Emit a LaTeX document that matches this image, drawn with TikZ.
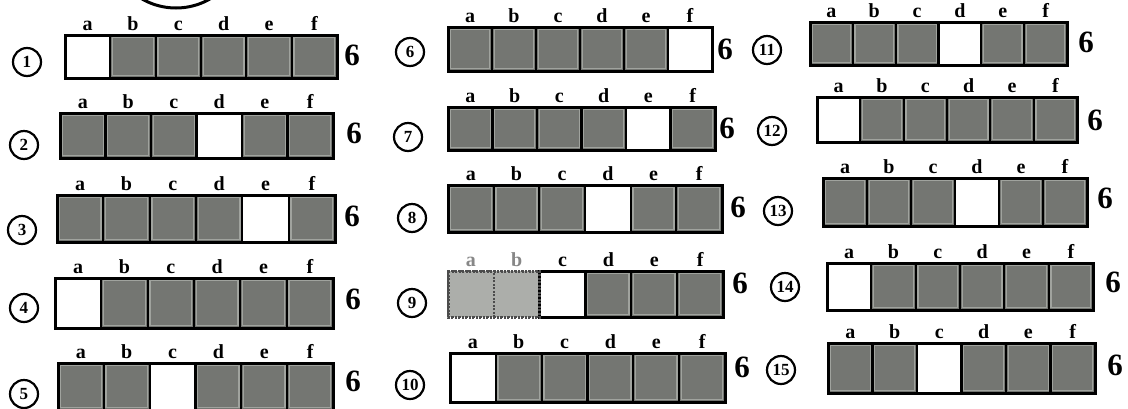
\documentclass[tikz,border=0pt]{standalone}
\usepackage{fontspec}
\setmainfont{Liberation Serif}
\definecolor{cellgray}{RGB}{116,118,114}
\definecolor{celledge}{RGB}{160,163,158}
\definecolor{lightcell}{RGB}{172,174,170}
\definecolor{lightlbl}{RGB}{135,135,135}
\tikzset{
  cellbox/.style={draw=black, line width=2.2pt, inner sep=0pt, outer sep=0pt, anchor=north west},
  lbl/.style={font=\bfseries\fontsize{20}{20}\selectfont, anchor=base, inner sep=0pt},
  six/.style={font=\bfseries\fontsize{31}{31}\selectfont, inner sep=0pt},
  num/.style={draw=black, circle, line width=2.2pt, minimum size=28pt, inner sep=0pt, font=\bfseries\fontsize{17}{17}\selectfont},
  framebox/.style={draw=black, line width=3pt},
  dashframe/.style={draw=black!70, line width=2.2pt, dash pattern=on 2pt off 1.5pt},
}
% #1 id, #2 left, #3 top, #4 right, #5 bottom, #6 white index, #7 light cells count
\newcommand{\cellrow}[7]{%
  \pgfmathsetmacro{\cw}{(#4-#2)/6}%
  \pgfmathsetmacro{\ch}{#5-#3}%
  \foreach \i/\l in {0/a,1/b,2/c,3/d,4/e,5/f}{%
    \pgfmathsetmacro{\xl}{#2+\i*\cw}%
    \pgfmathsetmacro{\xc}{#2+(\i+0.5)*\cw}%
    \ifnum\i<#7\relax
      \node[cellbox, dashframe, fill=lightcell, minimum width=\cw pt, minimum height=\ch pt] (r#1\l) at (\xl,#3) {};
      \node[lbl, text=lightlbl] (r#1l\l) at (\xc,#3-5) {\l};
    \else
      \ifnum\i=#6\relax
        \node[cellbox, fill=white, minimum width=\cw pt, minimum height=\ch pt] (r#1\l) at (\xl,#3) {};
      \else
        \node[cellbox, fill=cellgray, minimum width=\cw pt, minimum height=\ch pt] (r#1\l) at (\xl,#3) {};
        \draw[celledge, line width=1.3pt] ([shift={(2.3pt,-2.3pt)}]r#1\l.north west) rectangle ([shift={(-2.3pt,2.3pt)}]r#1\l.south east);
      \fi
      \node[lbl] (r#1l\l) at (\xc,#3-5) {\l};
    \fi
    \ifnum\i=#7\relax \coordinate (r#1start) at (r#1\l.north west); \fi
  }%
  \draw[framebox] (r#1start) rectangle (r#1f.south east);
  \ifnum#7>0\relax \draw[dashframe, line width=3pt] (r#1a.north west) rectangle (r#1start |- r#1f.south east); \fi
}
\begin{document}
\begin{tikzpicture}[x=1pt,y=-1pt]
\useasboundingbox (0,0) rectangle (1128,408);
\fill[white] (0,0) rectangle (1128,408);
\begin{scope}
\clip (0,0) rectangle (1128,408);
\draw[line width=3pt] (176,-60) circle (68pt);
\end{scope}

\cellrow{1}{65}{35}{337}{78}{0}{0}
\cellrow{2}{60}{113}{333}{158}{3}{0}
\cellrow{3}{57}{195}{335}{242}{4}{0}
\cellrow{4}{55}{278}{333}{328}{0}{0}
\cellrow{5}{58}{363}{333}{410}{2}{0}
\cellrow{6}{448}{27}{712}{71}{5}{0}
\cellrow{7}{448}{107}{715}{150}{4}{0}
\cellrow{8}{448}{185}{722}{232}{3}{0}
\cellrow{9}{448}{271}{723}{317}{2}{2}
\cellrow{10}{450}{353}{725}{402}{0}{0}
\cellrow{11}{810}{22}{1067}{65}{3}{0}
\cellrow{12}{817}{97}{1077}{142}{0}{0}
\cellrow{13}{823}{178}{1087}{226}{3}{0}
\cellrow{14}{827}{263}{1093}{310}{0}{0}
\cellrow{15}{828}{343}{1095}{393}{2}{0}

\node[num] (n1) at (27,62) {1};
\node[num] (n2) at (24,145) {2};
\node[num] (n3) at (22,230) {3};
\node[num] (n4) at (24,308) {4};
\node[num] (n5) at (24,394) {5};
\node[num] (n6) at (410,52) {6};
\node[num] (n7) at (408,137) {7};
\node[num] (n8) at (412,218) {8};
\node[num] (n9) at (412,303) {9};
\node[num] (n10) at (410,385) {10};
\node[num] (n11) at (767,50) {11};
\node[num] (n12) at (772,131) {12};
\node[num] (n13) at (778,211) {13};
\node[num] (n14) at (785,287) {14};
\node[num] (n15) at (781,370) {15};

\node[six] (s1) at (352,55) {6};
\node[six] (s2) at (354,133) {6};
\node[six] (s3) at (352,216) {6};
\node[six] (s4) at (353,299) {6};
\node[six] (s5) at (353,381) {6};
\node[six] (s6) at (725,49) {6};
\node[six] (s7) at (727,128) {6};
\node[six] (s8) at (738,207) {6};
\node[six] (s9) at (740,283) {6};
\node[six] (s10) at (742,367) {6};
\node[six] (s11) at (1086,42) {6};
\node[six] (s12) at (1095,120) {6};
\node[six] (s13) at (1105,198) {6};
\node[six] (s14) at (1113,282) {6};
\node[six] (s15) at (1115,365) {6};
\end{tikzpicture}
\end{document}
